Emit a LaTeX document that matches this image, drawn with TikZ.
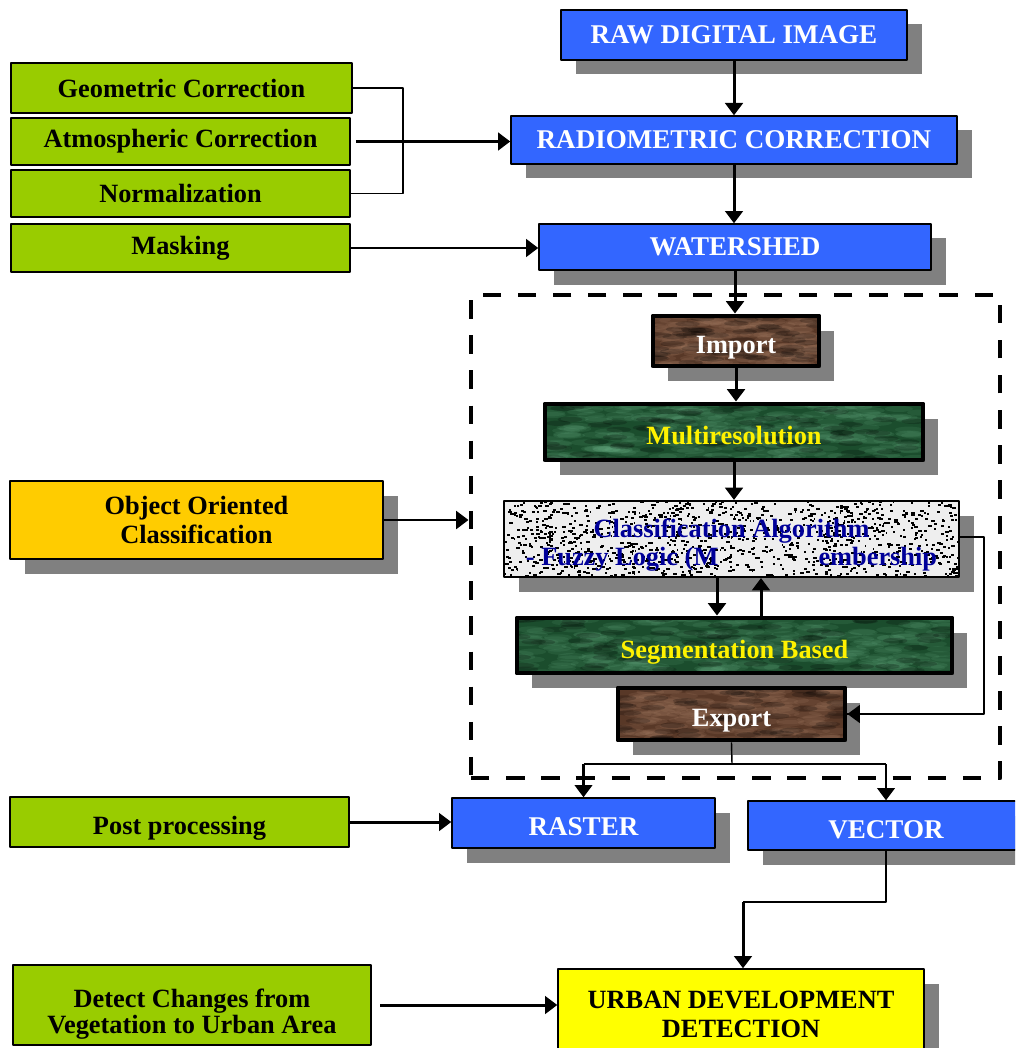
\documentclass[tikz,border=0pt]{standalone}
\usepackage{fontspec}
\setmainfont{Liberation Serif}
\usetikzlibrary{arrows.meta,shadows,calc}
\definecolor{bluebox}{HTML}{3366FF}
\definecolor{greenbox}{HTML}{99CC00}
\definecolor{goldbox}{HTML}{FFCC00}
\definecolor{yellowbox}{HTML}{FFFF00}
\definecolor{shadowgray}{HTML}{808080}
\definecolor{barkbrown}{HTML}{583827}
\definecolor{barklight}{HTML}{A98066}
\definecolor{mossgreen}{HTML}{1B4D2D}
\definecolor{mosslight}{HTML}{6DB389}
\definecolor{algoblue}{HTML}{000099}
\definecolor{speckgray}{HTML}{EEEEEE}

% random texture inside a node (used in path picture)
\newcommand{\texspots}[4]{%
  \foreach \k in {1,...,#1}{
    \coordinate (tx) at ($(path picture bounding box.south west)!rnd!(path picture bounding box.south east)$);
    \coordinate (ty) at ($(path picture bounding box.south west)!rnd!(path picture bounding box.north west)$);
    \pgfmathsetmacro\ang{rnd*180}
    \fill[#2,opacity=#3,rotate around={\ang:(tx |- ty)}] (tx |- ty) ellipse [x radius=#4, y radius=0.22*#4];
  }}
\newcommand{\texspeck}[1]{%
  \foreach \k in {1,...,#1}{
    \coordinate (tx) at ($(path picture bounding box.south west)!rnd!(path picture bounding box.south east)$);
    \coordinate (ty) at ($(path picture bounding box.south west)!rnd!(path picture bounding box.north west)$);
    \pgfmathsetmacro\sw{1.5+2.5*rnd}
    \fill[black] (tx |- ty) rectangle ++(\sw,-2);
  }}

\tikzset{
  sz/.style 2 args={minimum width=#1*0.02cm, minimum height=#2*0.02cm},
  box/.style={draw=black, line width=0.8pt, inner sep=0pt, align=center,
    font=\fontsize{15}{15.5}\selectfont\bfseries},
  low/.style={text height=14.6pt, text depth=0pt},
  shbox/.style={box, drop shadow={shadow xshift=0.3cm, shadow yshift=-0.29cm, fill=shadowgray, opacity=1}},
  bluestep/.style={shbox, fill=bluebox, text=white, font=\fontsize{15.4}{16}\selectfont\bfseries},
  greenstep/.style={box, fill=greenbox, text=black},
  barkstep/.style={shbox, low, fill=barkbrown, text=white, line width=2.8pt,
    path picture={\texspots{160}{barklight}{0.16}{8pt}\texspots{60}{black}{0.2}{7pt}}},
  mossstep/.style={shbox, low, fill=mossgreen, text=yellow, line width=2.8pt,
    path picture={\texspots{260}{mosslight}{0.13}{8pt}\texspots{80}{black}{0.2}{7pt}}},
  speckstep/.style={shbox, fill=speckgray, text=algoblue, line width=1.2pt,
    font=\fontsize{15}{16.4}\selectfont\bfseries, path picture={\texspeck{1100}}},
  frame/.style={draw=black, line width=2.8pt, dash pattern=on 10.5pt off 9.5pt},
  arrow/.style={->, line width=1.7pt},
  link/.style={line width=0.8pt}
}

\begin{document}
\begin{tikzpicture}[line join=round,>={Triangle[length=7pt,width=10pt]},x=0.02cm,y=-0.02cm]
\useasboundingbox (0,0) rectangle (1015,1048);
\clip (0,0) rectangle (1015,1048);
\pgfmathsetseed{2718}
% dashed frame of the object oriented part
\node[frame,sz={529}{483}] (frame) at (735.5,536.5) {};
% main chain
\node[bluestep,sz={346}{50}] (raw) at (734,35) {RAW DIGITAL IMAGE};
\node[bluestep,sz={446}{48}] (radio) at (734,140) {RADIOMETRIC CORRECTION};
\node[bluestep,sz={392}{46}] (water) at (735,247) {WATERSHED};
\node[barkstep,sz={166}{50}] (import) at (736,341) {Import};
\node[mossstep,sz={378}{56}] (multi) at (734,432) {Multiresolution};
\node[speckstep,sz={455}{76},text height=34pt] (classif) at (731.5,539) {Classification Algorithm\\- Fuzzy Logic (M\hspace{3.8em}embership};
\node[mossstep,sz={435}{55}] (seg) at (734.5,645.5) {Segmentation Based};
\node[barkstep,sz={227}{52}] (export) at (731.5,714) {Export};
\node[bluestep,low,sz={263}{50}] (raster) at (583.5,823) {RASTER};
\node[bluestep,low,sz={276}{49}] (vector) at (886,825.5) {VECTOR};
\node[shbox,fill=yellowbox,sz={366}{90},font=\fontsize{15}{16.4}\selectfont\bfseries] (urban) at (741,1014) {URBAN DEVELOPMENT\\DETECTION};
% side steps
\node[greenstep,sz={341}{50}] (geo) at (181.5,88) {Geometric Correction};
\node[greenstep,sz={339}{47}] (atm) at (180.5,141.5) {Atmospheric Correction};
\node[greenstep,sz={339}{47}] (norm) at (180.5,193.5) {Normalization};
\node[greenstep,sz={339}{48}] (mask) at (180.5,248) {Masking};
\node[shbox,fill=goldbox,sz={373}{78},font=\fontsize{15}{17}\selectfont\bfseries] (obj) at (196.5,520) {Object Oriented\\Classification};
\node[greenstep,low,sz={339}{50}] (post) at (179.5,822) {Post processing};
\node[greenstep,sz={358}{80},text height=36pt,font=\fontsize{15}{14.7}\selectfont\bfseries] (detect) at (192,1005) {Detect Changes from\\Vegetation to Urban Area};
% bend points
\coordinate (brk) at (403,140);
\coordinate (dn) at (717,0);
\coordinate (up) at (761,0);
\coordinate (loop) at (984,537);
\coordinate (exsplit) at (732,764);
\coordinate (vbend) at (743,902);
% connectors
\draw[arrow] (raw) -- (radio);
\draw[arrow] (radio.south) -- (radio.south |- water.north);
\draw[arrow] (water.south) -- (water.south |- import.north);
\draw[arrow] (import.south) -- (import.south |- multi.north);
\draw[arrow] (multi.south) -- (multi.south |- classif.north);
\draw[arrow] (classif.south -| dn) -- (seg.north -| dn);
\draw[arrow] (seg.north -| up) -- (classif.south -| up);
\draw[link] (classif.east |- loop) -- (loop) |- (export.east);
\draw[->,line width=1.4pt] ($(export.east)+(12,0)$) -- (export.east);
\draw[link] (geo.east) -| (brk) |- (norm.east);
\draw[arrow,shorten <=3pt] (atm.east) -- (atm.east -| radio.west);
\draw[arrow] (mask.east) -- (mask.east -| water.west);
\draw[arrow] (obj.east) -- (obj.east -| frame.west);
\draw[link] (export.south) -- (exsplit);
\draw[link] (exsplit -| raster) -- (exsplit -| vector);
\draw[->,line width=1.4pt] (exsplit -| raster) -- (raster.north);
\draw[->,line width=1.4pt] (exsplit -| vector) -- (vector.north);
\draw[arrow] (post.east) -- (post.east -| raster.west);
\draw[link] (vector.south) |- (vbend);
\draw[arrow] (vbend) -- (vbend |- urban.north);
\draw[arrow,shorten <=5pt] (detect.east) -- (detect.east -| urban.west);
\end{tikzpicture}
\end{document}
